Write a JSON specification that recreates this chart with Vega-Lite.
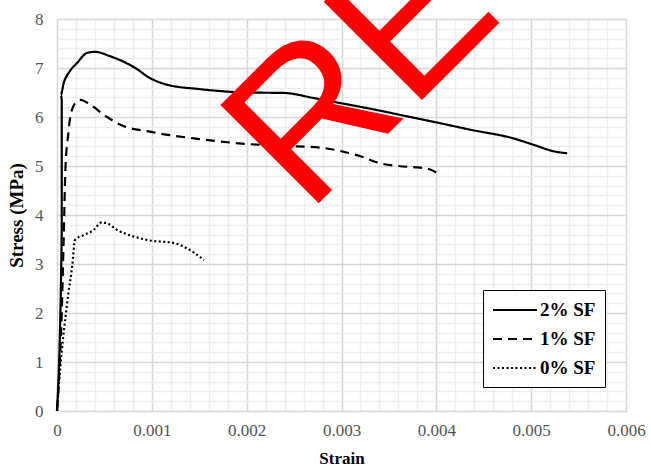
{
  "$schema": "https://vega.github.io/schema/vega-lite/v6.json",
  "width": 569,
  "height": 392,
  "autosize": {"type": "none"},
  "padding": {"left": 57, "top": 19, "right": 25, "bottom": 56},
  "background": "white",
  "config": {
    "view": {"stroke": null},
    "font": "Liberation Serif"
  },
  "layer": [
    {
      "data": {
        "values": [
          {"series": "2% SF", "i": 0, "strain": 0, "stress": 0},
          {"series": "2% SF", "i": 1, "strain": 0.00005, "stress": 3.7},
          {"series": "2% SF", "i": 2, "strain": 0.00005, "stress": 6.35},
          {"series": "2% SF", "i": 3, "strain": 0.00004, "stress": 6.45},
          {"series": "2% SF", "i": 4, "strain": 0.00007, "stress": 6.69},
          {"series": "2% SF", "i": 5, "strain": 0.00013, "stress": 6.92},
          {"series": "2% SF", "i": 6, "strain": 0.00021, "stress": 7.10},
          {"series": "2% SF", "i": 7, "strain": 0.00032, "stress": 7.31},
          {"series": "2% SF", "i": 8, "strain": 0.0004, "stress": 7.33},
          {"series": "2% SF", "i": 9, "strain": 0.00056, "stress": 7.24},
          {"series": "2% SF", "i": 10, "strain": 0.0007, "stress": 7.13},
          {"series": "2% SF", "i": 11, "strain": 0.00085, "stress": 6.97},
          {"series": "2% SF", "i": 12, "strain": 0.00095, "stress": 6.83},
          {"series": "2% SF", "i": 13, "strain": 0.00116, "stress": 6.66},
          {"series": "2% SF", "i": 14, "strain": 0.0015, "stress": 6.57},
          {"series": "2% SF", "i": 15, "strain": 0.002, "stress": 6.5},
          {"series": "2% SF", "i": 16, "strain": 0.0024, "stress": 6.49},
          {"series": "2% SF", "i": 17, "strain": 0.0027, "stress": 6.39},
          {"series": "2% SF", "i": 18, "strain": 0.003, "stress": 6.28},
          {"series": "2% SF", "i": 19, "strain": 0.0033, "stress": 6.17},
          {"series": "2% SF", "i": 20, "strain": 0.0037, "stress": 6.01},
          {"series": "2% SF", "i": 21, "strain": 0.004, "stress": 5.89},
          {"series": "2% SF", "i": 22, "strain": 0.00436, "stress": 5.74},
          {"series": "2% SF", "i": 23, "strain": 0.0048, "stress": 5.57},
          {"series": "2% SF", "i": 24, "strain": 0.00503, "stress": 5.43},
          {"series": "2% SF", "i": 25, "strain": 0.00524, "stress": 5.30},
          {"series": "2% SF", "i": 26, "strain": 0.00538, "stress": 5.26},
          {"series": "1% SF", "i": 0, "strain": 0, "stress": 0},
          {"series": "1% SF", "i": 1, "strain": 0.00003, "stress": 1.0},
          {"series": "1% SF", "i": 2, "strain": 0.00005, "stress": 2.0},
          {"series": "1% SF", "i": 3, "strain": 0.00007, "stress": 3.5},
          {"series": "1% SF", "i": 4, "strain": 0.00009, "stress": 5.0},
          {"series": "1% SF", "i": 5, "strain": 0.00012, "stress": 5.67},
          {"series": "1% SF", "i": 6, "strain": 0.00014, "stress": 6.0},
          {"series": "1% SF", "i": 7, "strain": 0.00019, "stress": 6.28},
          {"series": "1% SF", "i": 8, "strain": 0.00025, "stress": 6.35},
          {"series": "1% SF", "i": 9, "strain": 0.00033, "stress": 6.28},
          {"series": "1% SF", "i": 10, "strain": 0.00049, "stress": 6.05},
          {"series": "1% SF", "i": 11, "strain": 0.00067, "stress": 5.84},
          {"series": "1% SF", "i": 12, "strain": 0.00098, "stress": 5.70},
          {"series": "1% SF", "i": 13, "strain": 0.0015, "stress": 5.55},
          {"series": "1% SF", "i": 14, "strain": 0.002, "stress": 5.45},
          {"series": "1% SF", "i": 15, "strain": 0.0024, "stress": 5.41},
          {"series": "1% SF", "i": 16, "strain": 0.0028, "stress": 5.37},
          {"series": "1% SF", "i": 17, "strain": 0.003, "stress": 5.30},
          {"series": "1% SF", "i": 18, "strain": 0.0032, "stress": 5.20},
          {"series": "1% SF", "i": 19, "strain": 0.0034, "stress": 5.06},
          {"series": "1% SF", "i": 20, "strain": 0.0036, "stress": 5.0},
          {"series": "1% SF", "i": 21, "strain": 0.0038, "stress": 4.97},
          {"series": "1% SF", "i": 22, "strain": 0.0039, "stress": 4.95},
          {"series": "1% SF", "i": 23, "strain": 0.00404, "stress": 4.82},
          {"series": "0% SF", "i": 0, "strain": 0, "stress": 0},
          {"series": "0% SF", "i": 1, "strain": 0.000035, "stress": 0.9},
          {"series": "0% SF", "i": 2, "strain": 0.00009, "stress": 1.93},
          {"series": "0% SF", "i": 3, "strain": 0.00012, "stress": 2.4},
          {"series": "0% SF", "i": 4, "strain": 0.00016, "stress": 2.95},
          {"series": "0% SF", "i": 5, "strain": 0.00019, "stress": 3.49},
          {"series": "0% SF", "i": 6, "strain": 0.00028, "stress": 3.59},
          {"series": "0% SF", "i": 7, "strain": 0.00039, "stress": 3.70},
          {"series": "0% SF", "i": 8, "strain": 0.00047, "stress": 3.85},
          {"series": "0% SF", "i": 9, "strain": 0.00053, "stress": 3.83},
          {"series": "0% SF", "i": 10, "strain": 0.00063, "stress": 3.70},
          {"series": "0% SF", "i": 11, "strain": 0.00081, "stress": 3.56},
          {"series": "0% SF", "i": 12, "strain": 0.00098, "stress": 3.48},
          {"series": "0% SF", "i": 13, "strain": 0.00123, "stress": 3.43},
          {"series": "0% SF", "i": 14, "strain": 0.00137, "stress": 3.32},
          {"series": "0% SF", "i": 15, "strain": 0.00155, "stress": 3.08}
        ]
      },
      "mark": {"type": "line", "color": "black", "strokeWidth": 2.2, "interpolate": "monotone"},
      "encoding": {
        "x": {
          "field": "strain",
          "type": "quantitative",
          "scale": {"domain": [0, 0.006], "nice": false, "zero": true},
          "axis": {
            "title": "Strain",
            "tickCount": 1000,
            "values": [0, 0.0002, 0.0004, 0.0006, 0.0008, 0.001, 0.0012, 0.0014, 0.0016, 0.0018, 0.002, 0.0022, 0.0024, 0.0026, 0.0028, 0.003, 0.0032, 0.0034, 0.0036, 0.0038, 0.004, 0.0042, 0.0044, 0.0046, 0.0048, 0.005, 0.0052, 0.0054, 0.0056, 0.0058, 0.006],
            "labelExpr": "abs(datum.value*1000 - round(datum.value*1000)) < 1e-6 ? format(datum.value, '~g') : ''",
            "gridColor": {"condition": {"test": "abs(datum.value*1000 - round(datum.value*1000)) < 1e-6", "value": "#d6d6d6"}, "value": "#eeeeee"},
            "gridWidth": 1.5,
            "domain": false,
            "ticks": false,
            "labelFont": "Liberation Serif",
            "labelFontSize": 17,
            "labelColor": "#555555",
            "labelPadding": 11,
            "labelFlush": false,
            "labelOverlap": false,
            "titleFont": "Liberation Serif",
            "titleFontSize": 17,
            "titleFontWeight": "bold",
            "titleColor": "black",
            "titlePadding": 12
          }
        },
        "y": {
          "field": "stress",
          "type": "quantitative",
          "scale": {"domain": [0, 8], "nice": false},
          "axis": {
            "title": "Stress (MPa)",
            "tickCount": 1000,
            "values": [0, 0.2, 0.4, 0.6, 0.8, 1, 1.2, 1.4, 1.6, 1.8, 2, 2.2, 2.4, 2.6, 2.8, 3, 3.2, 3.4, 3.6, 3.8, 4, 4.2, 4.4, 4.6, 4.8, 5, 5.2, 5.4, 5.6, 5.8, 6, 6.2, 6.4, 6.6, 6.8, 7, 7.2, 7.4, 7.6, 7.8, 8],
            "labelExpr": "abs(datum.value - round(datum.value)) < 1e-6 ? format(datum.value, '~g') : ''",
            "gridColor": {"condition": {"test": "abs(datum.value - round(datum.value)) < 1e-6", "value": "#d6d6d6"}, "value": "#eeeeee"},
            "gridWidth": 1.5,
            "domain": false,
            "ticks": false,
            "labelFont": "Liberation Serif",
            "labelFontSize": 17,
            "labelColor": "#555555",
            "labelPadding": 14,
            "labelOverlap": false,
            "labelFlush": false,
            "titleFont": "Liberation Serif",
            "titleFontSize": 19,
            "titleFontWeight": "bold",
            "titleColor": "black",
            "titlePadding": 8
          }
        },
        "order": {"field": "i", "type": "quantitative"},
        "strokeDash": {
          "field": "series",
          "type": "nominal",
          "scale": {"domain": ["2% SF", "1% SF", "0% SF"], "range": [[1, 0], [9, 6], [2, 2.5]]},
          "legend": {
            "orient": "none",
            "legendX": 426,
            "legendY": 271,
            "title": null,
            "symbolType": "M-1,0L3.4,0",
            "symbolSize": 400,
            "symbolStrokeWidth": 2,
            "symbolStrokeColor": "black",
            "labelFont": "Liberation Serif",
            "labelFontSize": 19,
            "labelFontWeight": "bold",
            "labelColor": "black",
            "labelOffset": 26,
            "rowPadding": 8,
            "padding": 9,
            "fillColor": "white",
            "strokeColor": "black"
          }
        }
      }
    },
    {
      "data": {"values": [{"strain": 0.002636, "stress": 4.0, "label": "RE"}]},
      "mark": {"type": "text", "font": "Liberation Sans", "fontSize": 202, "angle": -45, "align": "left", "baseline": "alphabetic", "color": "#ff0000"},
      "encoding": {
        "x": {"field": "strain", "type": "quantitative"},
        "y": {"field": "stress", "type": "quantitative"},
        "text": {"field": "label"}
      }
    }
  ]
}
